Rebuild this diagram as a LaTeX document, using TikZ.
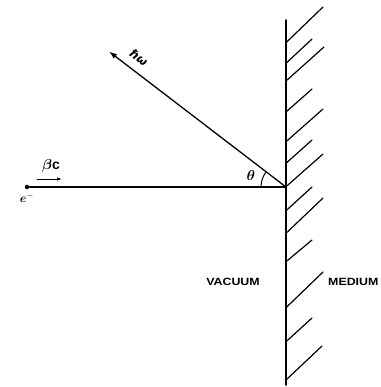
\documentclass[tikz,border=0pt]{standalone}
\usepackage{fontspec}
\usepackage{bm}
\setsansfont{Liberation Sans}
\newfontfamily\dvsans{DejaVu Sans}
\usetikzlibrary{arrows.meta}
\begin{document}
\begin{tikzpicture}[x=1pt,y=-1pt, line cap=round,
  ray/.style={line width=1.3pt},
  hatch/.style={line width=1.2pt},
  sym/.style={font=\fontsize{14}{16}\selectfont, inner sep=0},
  lbl/.style={font=\sffamily\bfseries\fontsize{10.5}{12}\selectfont, inner sep=0}]
\useasboundingbox (0,0) rectangle (380,387);
\clip (0,0) rectangle (380,387);
\coordinate (O) at (286,187);
\coordinate (wt) at (286,20);
\coordinate (wb) at (286,385);
\coordinate (p) at (109,51.5);
\node[circle, fill, inner sep=0, minimum size=4.5pt] (e) at (27,187) {};
\draw[line width=1.6pt] (wt) -- (wb);
\draw[ray] (e) -- (O);
\draw[ray, -{Latex[length=8pt,width=5.5pt]}] (O) -- (p);
\foreach \ys/\xe/\ye in {42.7/323/7, 63.3/312/39, 81/324/47, 112/312/89,
  141.7/323/109, 163.3/312/140, 186.7/323/154, 210.7/312/187, 233.3/323/198,
  261.7/312/240, 307.7/323/272, 341.7/312/318, 380/322/346}
  \draw[hatch] (286,\ys) -- (\xe,\ye);
\draw[line width=1pt] ([shift={(180:25)}]O) arc[start angle=180, end angle=217.5, radius=25];
\node[sym] (th) at (251,175) {$\bm{\theta}$};
\node[rotate=-37.5, font=\dvsans\bfseries\itshape\fontsize{12}{14}\selectfont, inner sep=0] (hw) at (139,58) {ℏω};
\node[sym] (bc) at (51,166) {$\bm{\beta}$\textsf{\bfseries c}};
\coordinate (a1) at (37,179);
\coordinate (a2) at (62,179);
\draw[line width=1pt, -{Latex[length=5pt,width=3.5pt]}] (a1) -- (a2);
\node[font=\fontsize{13}{15}\selectfont, inner sep=0] (el) at (27,198) {$\bm{e}^-$};
\node[lbl] (vac) at (233,282) {\scalebox{1.18}[1]{VACUUM}};
\node[lbl, anchor=west] (med) at (328,282) {\scalebox{1.18}[1]{MEDIUM}};
\end{tikzpicture}
\end{document}
